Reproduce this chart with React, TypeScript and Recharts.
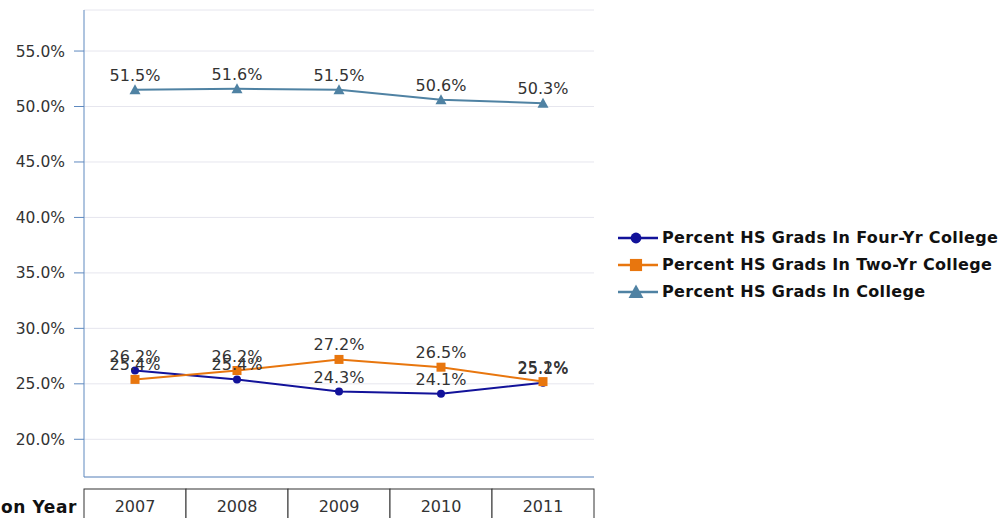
import { LineChart, Line, XAxis, YAxis, CartesianGrid, LabelList } from 'recharts'

const years = ['2007', '2008', '2009', '2010', '2011']
const fourYr = [26.2, 25.4, 24.3, 24.1, 25.1]
const twoYr = [25.4, 26.2, 27.2, 26.5, 25.2]
const inCollege = [51.5, 51.6, 51.5, 50.6, 50.3]
const yTicks = [20, 25, 30, 35, 40, 45, 50, 55]

const seriesNames = [
  'Percent HS Grads In Four-Yr College',
  'Percent HS Grads In Two-Yr College',
  'Percent HS Grads In College',
]
const colors = ['#12129a', '#e8760e', '#4f82a3']

const data = years.map((year, i) => ({
  year,
  four: fourYr[i],
  two: twoYr[i],
  college: inCollege[i],
}))

const FONT = '"DejaVu Sans", sans-serif'
const AXIS = '#5f89bf'

const fmt = (v: any) => Number(v).toFixed(1) + '%'

function TableTick(props: any) {
  const { x, y, payload, index } = props
  const w = 102
  return (
    <g>
      <rect x={x - w / 2} y={y} width={w} height={40} fill="#fff" stroke="#333" strokeWidth={1} />
      <text x={x} y={y + 23} textAnchor="middle" fontSize={16} fontFamily={FONT} fill="#333">
        {payload.value}
      </text>
      {index === 0 && (
        <text x={x - w / 2 - 7} y={y + 24} textAnchor="end" fontSize={17} fontWeight="bold" letterSpacing={0.6} fontFamily={FONT} fill="#111">
          Graduation Year
        </text>
      )}
    </g>
  )
}

function Marker({ kind, color, cx, cy, s = 1 }: { kind: number; color: string; cx: number; cy: number; s?: number }) {
  if (kind === 0) return <circle cx={cx} cy={cy} r={4 * s} fill={color} />
  if (kind === 1) return <rect x={cx - 4.5 * s} y={cy - 4.5 * s} width={9 * s} height={9 * s} fill={color} />
  return (
    <polygon
      points={`${cx},${cy - 5.5 * s} ${cx + 5.5 * s},${cy + 4.5 * s} ${cx - 5.5 * s},${cy + 4.5 * s}`}
      fill={color}
    />
  )
}

const dot = (kind: number) => (p: any) => (
  <Marker key={`${kind}-${p.index}`} kind={kind} color={colors[kind]} cx={p.cx} cy={p.cy} />
)

const labelProps = { position: 'top' as const, offset: 9, formatter: fmt, fill: '#333', fontSize: 16, fontFamily: FONT }

export default function App() {
  return (
    <div style={{ position: 'absolute', left: 0, top: 0, width: 1001, height: 518, background: '#fff' }}>
      <LineChart
        width={1001}
        height={518}
        data={data}
        margin={{ top: 10, right: 407, left: 0, bottom: 0 }}
        style={{ fontFamily: FONT }}
      >
        <CartesianGrid vertical={false} stroke="#e6e6ee" />
        <XAxis
          dataKey="year"
          padding={{ left: 51, right: 51 }}
          height={41}
          tickSize={0}
          tickMargin={12}
          tick={<TableTick />}
          stroke={AXIS}
          interval={0}
        />
        <YAxis
          domain={[16.6, 58.7]}
          ticks={yTicks}
          tickFormatter={fmt}
          width={84}
          tickSize={10}
          tickMargin={9}
          stroke={AXIS}
          tick={{ fill: '#333', fontSize: 15.5, fontFamily: FONT }}
          allowDataOverflow
        />
        <Line dataKey="four" stroke={colors[0]} strokeWidth={2} dot={dot(0)} isAnimationActive={false}>
          <LabelList dataKey="four" {...labelProps} />
        </Line>
        <Line dataKey="two" stroke={colors[1]} strokeWidth={2} dot={dot(1)} isAnimationActive={false}>
          <LabelList dataKey="two" {...labelProps} />
        </Line>
        <Line dataKey="college" stroke={colors[2]} strokeWidth={2} dot={dot(2)} isAnimationActive={false}>
          <LabelList dataKey="college" {...labelProps} />
        </Line>
      </LineChart>
      <div style={{ position: 'absolute', left: 618, top: 224, fontFamily: FONT }}>
        {seriesNames.map((name, i) => (
          <div key={name} style={{ display: 'flex', alignItems: 'center', height: 27 }}>
            <svg width={40} height={16} style={{ marginRight: 4 }}>
              <line x1={0} y1={8} x2={40} y2={8} stroke={colors[i]} strokeWidth={2.5} />
              <Marker kind={i} color={colors[i]} cx={18} cy={8} s={1.35} />
            </svg>
            <span style={{ fontSize: 16, letterSpacing: 0.35, fontWeight: 'bold', color: '#111', whiteSpace: 'nowrap' }}>
              {name}
            </span>
          </div>
        ))}
      </div>
    </div>
  )
}
